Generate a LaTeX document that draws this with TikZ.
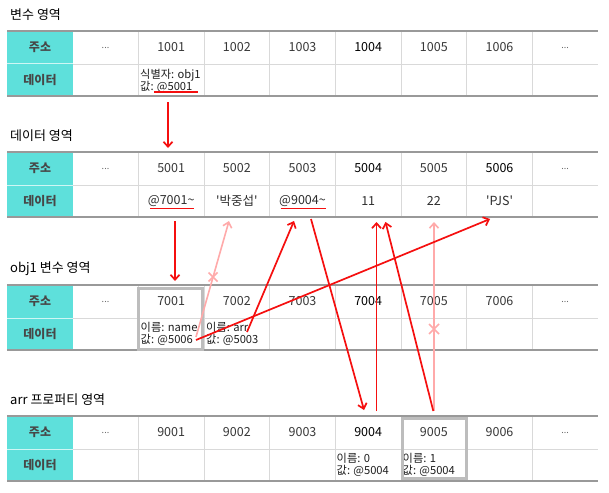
\documentclass[tikz,border=0pt]{standalone}
\usepackage{fontspec}
\newfontfamily\kr{Noto Sans CJK KR}
\usetikzlibrary{arrows.meta}
\definecolor{hdrcyan}{HTML}{5EE0DB}
\definecolor{redl}{HTML}{F50F0F}
\definecolor{pinkl}{HTML}{FFAAAA}
\definecolor{boxgray}{HTML}{BDBDBD}
\tikzset{
  cellline/.style={draw=black!15, line width=0.8pt},
  hdrsep/.style={draw=white!70!hdrcyan, line width=1pt},
  tblborder/.style={draw=black!40, line width=1.8pt},
  hdrtext/.style={font=\kr\fontsize{12}{13}\selectfont\bfseries, text=black!72},
  addr/.style={font=\kr\fontsize{12.5}{13}\selectfont, text=black!78},
  n1/.style={},n2/.style={},n3/.style={},n4/.style={text=black},n5/.style={},n6/.style={},
  dotsnode/.style={font=\kr\fontsize{9}{10}\selectfont, text=black!60},
  titletext/.style={font=\kr\fontsize{13}{14}\selectfont, anchor=west, inner sep=0},
  datatext/.style={font=\kr\fontsize{11.2}{12}\selectfont, align=left, inner sep=0, anchor=north west, text=black!88},
  celltext/.style={font=\kr\fontsize{12.5}{13}\selectfont, text=black!82},
  redarrow/.style={draw=redl, line width=1.7pt, -{Straight Barb[length=5pt,width=9pt]}},
  pinkarrow/.style={draw=pinkl, line width=1.6pt, -{Straight Barb[length=5pt,width=9pt]}},
  xmark/.style={draw=pinkl, line width=1.5pt},
  ulinered/.style={draw=redl, line width=1.6pt},
  hibox/.style={draw=boxgray, line width=3pt},
}
\newcommand\memtable[4]{%
  \fill[hdrcyan] (7,#2) rectangle (73,#2+65);
  \draw[hdrsep] (7,#2+33) -- (73,#2+33);
  \draw[cellline] (73,#2+33) -- (598,#2+33);
  \foreach \i in {2,...,8} \draw[cellline] ({7+65.667*\i},#2) -- ({7+65.667*\i},#2+65);
  \draw[tblborder] (7,#2) -- (598,#2);
  \draw[tblborder] (7,#2+65) -- (598,#2+65);
  \node[hdrtext] (#1hk) at (40,#2+16.5) {주소};
  \node[hdrtext] (#1hd) at (40,#2+49) {데이터};
  \node[titletext] (#1title) at (10,#2-16) {#3};
  \node[dotsnode] (#1dl) at (105.5,#2+16.5) {...};
  \node[dotsnode] (#1dr) at (565.2,#2+16.5) {...};
  \foreach \n in {1,...,6} {
    \pgfmathtruncatemacro\addr{#4+\n}
    \node[addr, n\n] (#1\addr) at ({7+65.667*(\n+1)+32.83},#2+16.5) {\addr};
  }
}
\begin{document}
\begin{tikzpicture}[x=1pt,y=-1pt]
\useasboundingbox (0,0) rectangle (609,492);
\fill[white] (0,0) rectangle (609,492);

% tables
\memtable{a}{31}{변수 영역}{1000}
\begin{scope}[n6/.style={text=black}]
\memtable{b}{152}{데이터 영역}{5000}
\end{scope}
\memtable{c}{285}{obj1 변수 영역}{7000}
\memtable{d}{416}{arr 프로퍼티 영역}{9000}

% data row texts
\node[datatext] (da1001) at (140,69.5) {식별자: obj1\\값: @5001};
\node[celltext] (db5001) at (171.2,201) {@7001\string~};
\node[celltext] (db5002) at (236.8,201) {'박중섭'};
\node[celltext] (db5003) at (302.5,201) {@9004\string~};
\node[celltext] (db5004) at (368.2,201) {11};
\node[celltext] (db5005) at (433.8,201) {22};
\node[celltext] (db5006) at (499.5,201) {'PJS'};
\node[datatext] (dc7001) at (140.5,322.5) {이름: name\\값: @5006};
\node[datatext] (dc7002) at (206,322.5) {이름: arr\\값: @5003};
\node[datatext] (dd9004) at (336.5,453.5) {이름: 0\\값: @5004};
\node[datatext] (dd9005) at (402.5,453.5) {이름: 1\\값: @5004};

% highlight boxes
\draw[hibox] (138.4,288) rectangle (202.3,349);
\draw[hibox] (402,418) rectangle (466.5,478);

% underlines
\draw[ulinered] (154,92) -- (198,92);
\draw[ulinered] (150,208.5) -- (194.3,208.5);
\draw[ulinered] (280.7,208.5) -- (325.7,208.5);

% connector end points
\coordinate (p5001s) at (168,102);
\coordinate (p5001e) at (168,148);
\coordinate (p7001s) at (175,221);
\coordinate (p7001e) at (175,281);
\coordinate (pnames) at (196,337);
\coordinate (pnamee) at (229,221);
\coordinate (parrs) at (247,332);
\coordinate (parre) at (294,221);
\coordinate (p9004s) at (311,219);
\coordinate (p9004e) at (364,410);
\coordinate (p0s) at (376.5,411);
\coordinate (p0e) at (376.5,222);
\coordinate (p1s) at (433.3,411);
\coordinate (p1e) at (385.5,222);
\coordinate (ppjss) at (196,340);
\coordinate (ppjse) at (490,219);
\coordinate (p22s) at (434,411);
\coordinate (p22e) at (434,222);
\coordinate (x1) at (213,277);
\coordinate (x2) at (434,329);

% connectors
\draw[redarrow] (p5001s) -- (p5001e);
\draw[redarrow] (p7001s) -- (p7001e);
\draw[pinkarrow] (pnames) -- (pnamee);
\draw[pinkarrow] (p22s) -- (p22e);
\draw[redarrow] (parrs) -- (parre);
\draw[redarrow] (p9004s) -- (p9004e);
\draw[redarrow] (p0s) -- (p0e);
\draw[redarrow] (p1s) -- (p1e);
\draw[redarrow] (ppjss) -- (ppjse);

% cross marks
\draw[xmark] (x1) ++(-4.5,-4.5) -- ++(9,9) (x1) ++(-4.5,4.5) -- ++(9,-9);
\draw[xmark] (x2) ++(-5,-5) -- ++(10,10) (x2) ++(-5,5) -- ++(10,-10);
\end{tikzpicture}
\end{document}
